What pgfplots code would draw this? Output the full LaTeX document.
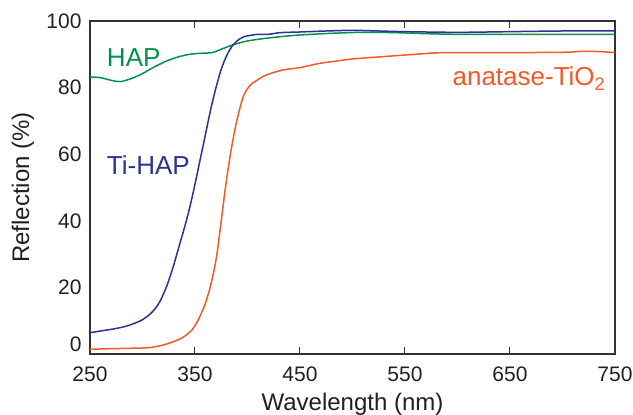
\documentclass[border=0pt]{standalone}
\usepackage{pgfplots}
\pgfplotsset{compat=1.18}
\usepackage{fontspec}
\setmainfont{Liberation Sans}
\definecolor{hapgreen}{HTML}{00924A}
\definecolor{tiblue}{HTML}{2B3392}
\definecolor{tired}{HTML}{F15A29}
\definecolor{axgray}{HTML}{333333}
\definecolor{txt}{HTML}{231F20}
\begin{document}
\begin{tikzpicture}
\begin{axis}[
  scale only axis,
  width=525pt, height=333pt,
  xmin=250, xmax=750, ymin=0, ymax=100,
  xtick={250,350,...,750},
  ytick={20,40,...,100},
  extra y ticks={0},
  extra y tick style={yticklabel style={yshift=10pt}},
  tick align=inside,
  major tick length=7pt,
  ytick style={draw=none},
  xtick style={axgray, line width=1pt},
  axis line style={axgray, line width=1.4pt},
  /pgf/number format/assume math mode=true,
  /pgf/number format/1000 sep={},
  tick label style={font=\fontsize{21}{24}\selectfont, text=txt},
  xticklabel style={yshift=-9pt},
  yticklabel style={xshift=-5pt},
  xlabel={Wavelength (nm)},
  ylabel={Reflection (\%)},
  every axis x label/.style={at={(axis description cs:0.5,-0.15)}, anchor=center, font=\fontsize{24}{28}\selectfont, text=txt},
  every axis y label/.style={at={(axis description cs:-0.128,0.5)}, rotate=90, anchor=center, font=\fontsize{24}{28}\selectfont, text=txt},
  clip=false,
]
\addplot[hapgreen, line width=1.5pt, smooth, tension=0.5] coordinates {
(250,83.2) (260,83.0) (270,82.2) (279,81.8) (290,82.8) (300,84.2) (310,86.0)
(323,88.0) (335,89.3) (345,90.0) (355,90.3) (366,90.5) (375,91.5) (383,92.5)
(391,93.3) (400,94.0) (410,94.5) (420,94.9) (435,95.4) (450,95.8) (480,96.3)
(510,96.6) (540,96.5) (570,96.2) (600,96.0) (650,96.0) (700,96.0) (750,96.0)
};
\addplot[tiblue, line width=1.5pt, smooth, tension=0.5] coordinates {
(250,6.4) (260,6.9) (270,7.4) (277,7.8) (285,8.4) (293,9.3) (300,10.3)
(308,12.2) (313,14.0) (317,16.0) (322,19.5) (326,23.0) (330,27.0) (335,32.5)
(340,38.0) (345,44.0) (350,51.0) (355,58.5) (360,66.0) (365,73.5) (370,80.0)
(375,85.5) (380,89.5) (385,92.3) (390,94.0) (396,95.2) (403,95.7) (410,96.0)
(420,96.0) (431,96.5) (450,96.7) (475,97.0) (500,97.2) (525,97.0) (550,96.8)
(600,96.6) (650,96.8) (700,97.0) (750,97.0)
};
\addplot[tired, line width=1.5pt, smooth, tension=0.5] coordinates {
(250,1.4) (260,1.5) (270,1.6) (286,1.7) (300,1.8) (309,2.0) (317,2.5)
(325,3.2) (331,3.9) (337,4.7) (342,5.8) (347,7.2) (352,9.6) (356,12.2)
(360,15.3) (364,19.5) (368,25.0) (371,30.2) (375,40.0) (380,52.3) (385,62.3)
(390,70.3) (396,77.3) (402,80.5) (408,82.0) (418,83.8) (434,85.3) (450,86.0)
(469,87.3) (481,87.8) (500,88.6) (529,89.3) (560,90.0) (586,90.5) (640,90.5)
(700,90.6) (720,90.9) (736,90.8) (750,90.5)
};
\node[anchor=base west, text=hapgreen, font=\fontsize{26}{30}\selectfont, inner sep=0pt] at (axis cs:266,86.3) {HAP};
\node[anchor=base west, text=tiblue, font=\fontsize{26}{30}\selectfont, inner sep=0pt] at (axis cs:266,53.8) {Ti-HAP};
\node[anchor=base east, text=tired, font=\fontsize{26}{30}\selectfont, inner sep=0pt] at (axis cs:741,80.5) {anatase-TiO\textsubscript{2}};
\end{axis}
\pgfresetboundingbox
\path (-90pt,-61pt) rectangle (543pt,354pt);
\end{tikzpicture}
\end{document}
